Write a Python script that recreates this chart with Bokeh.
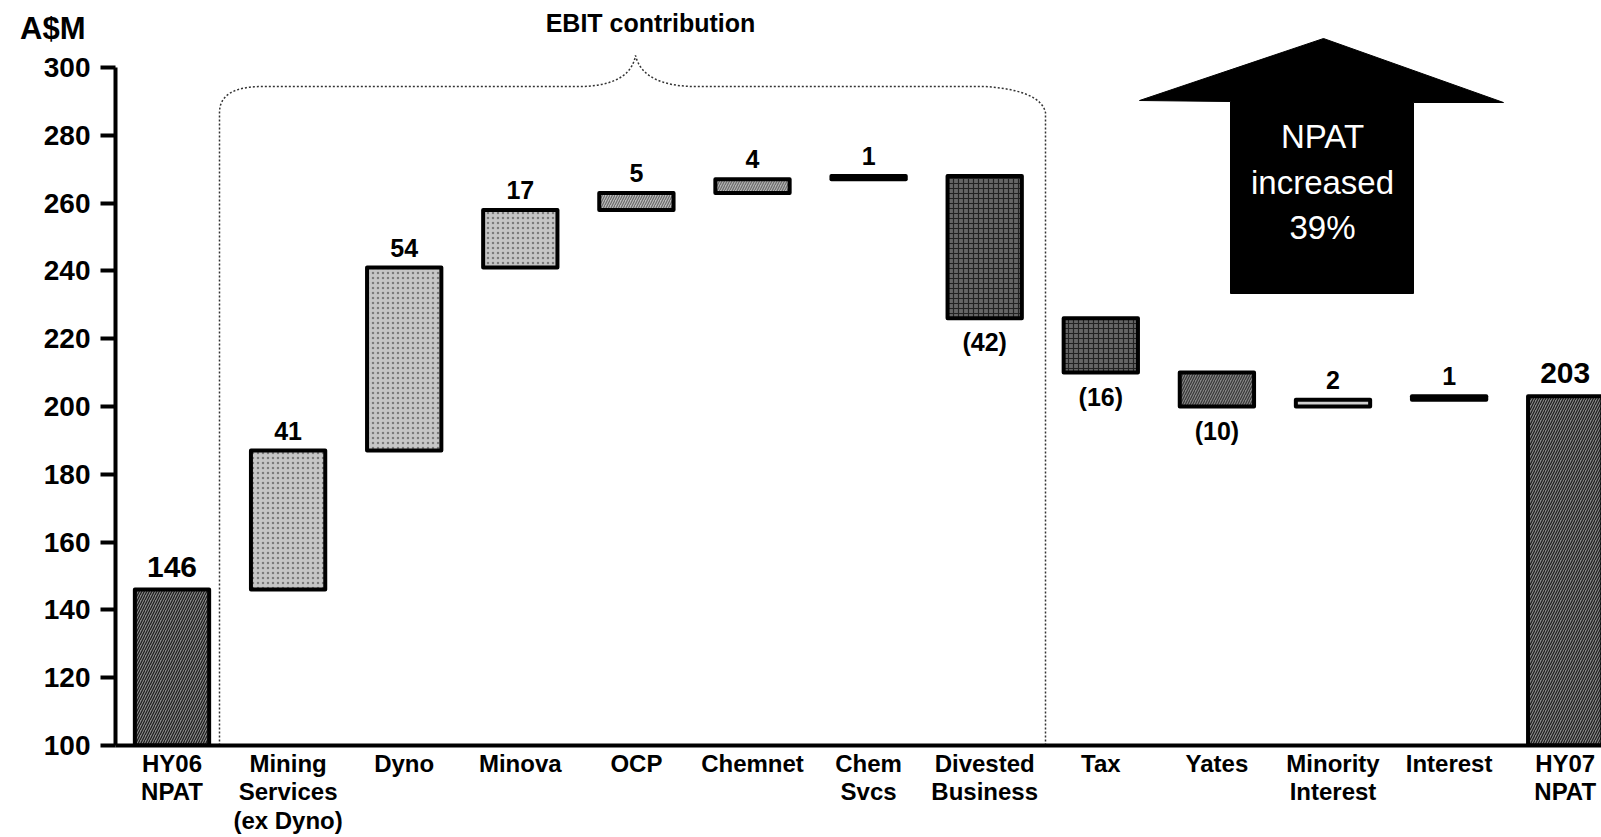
from bokeh.plotting import figure
from bokeh.models import Range1d, FixedTicker, LinearAxis, ColumnDataSource
from bokeh.embed import file_html
from bokeh.resources import INLINE
from bokeh.core.properties import value
import numpy as np

# ---- data -------------------------------------------------------------
categories = [
    "HY06\nNPAT", "Mining\nServices\n(ex Dyno)", "Dyno", "Minova", "OCP",
    "Chemnet", "Chem\nSvcs", "Divested\nBusiness", "Tax", "Yates",
    "Minority\nInterest", "Interest", "HY07\nNPAT",
]
opening_npat = 146
closing_npat = 203
movements = [41, 54, 17, 5, 4, 1, -42, -16, -10, 2, 1]
y_ticks = [100, 120, 140, 160, 180, 200, 220, 240, 260, 280, 300]
unit_label = "A$M"
arrow_lines = ["NPAT", "increased", "39%"]

# ---- styling per bar --------------------------------------------------
fill_colors = ["#888888", "#c6c6c6", "#c6c6c6", "#c6c6c6", "#bdbdbd", "#b5b5b5",
               "#000000", "#666666", "#666666", "#868686", "#d0d0d0", "#000000",
               "#888888"]
hatch_patterns = ["right_diagonal_line", "dot", "dot", "dot", "right_diagonal_line",
                  "right_diagonal_line", " ", "cross", "cross", "right_diagonal_line",
                  " ", " ", "right_diagonal_line"]
hatch_colors = ["#1a1a1a", "#7a7a7a", "#7a7a7a", "#7a7a7a", "#6a6a6a", "#6a6a6a",
                "#000000", "#222222", "#222222", "#363636", "#666666", "#000000",
                "#1a1a1a"]

# ---- waterfall geometry -------------------------------------------------
base = y_ticks[0]
bottoms, tops, labels = [base], [opening_npat], [str(opening_npat)]
level = opening_npat
for m in movements:
    new = level + m
    bottoms.append(min(level, new))
    tops.append(max(level, new))
    labels.append(str(m) if m >= 0 else "(%d)" % (-m))
    level = new
bottoms.append(base)
tops.append(closing_npat)
labels.append(str(closing_npat))

xs = np.arange(len(categories))
half_w = 0.32

# pixel <-> data helpers (frame: x 115..1601, y 0..745)
CX0, DX = 171.5, 116.1
PY100, DY = 745.0, 3.39


def xd(px):
    return (px - CX0) / DX


def yd(py):
    return 100 + (PY100 - py) / DY


FONT = "Liberation Sans"

p = figure(width=1601, height=837, output_backend="svg", toolbar_location=None,
           x_range=Range1d(xd(115), xd(1601)), y_range=Range1d(100, yd(0)),
           min_border_left=115, min_border_right=0, min_border_top=0,
           min_border_bottom=92)
p.outline_line_color = None
p.xgrid.visible = False
p.ygrid.visible = False
p.background_fill_color = "white"
p.border_fill_color = "white"

# bars
bars = ColumnDataSource(dict(
    left=xs - half_w, right=xs + half_w, bottom=bottoms, top=tops,
    fill=fill_colors, hatch=hatch_patterns, hcol=hatch_colors,
))
p.quad(left="left", right="right", bottom="bottom", top="top", source=bars,
       fill_color="fill", hatch_pattern="hatch", hatch_color="hcol",
       hatch_scale=5, hatch_weight=1.2, line_color="black", line_width=4,
       line_join="round")

# value labels (vertically centred on the digits)
is_total = [True] + [False] * len(movements) + [True]
vals = [opening_npat] + movements + [closing_npat]
lab_y, lab_size = [], []
for i, v in enumerate(vals):
    if is_total[i]:
        lab_y.append(tops[i] + 23 / DY)
        lab_size.append("30px")
    elif v >= 0:
        lab_y.append(tops[i] + 20 / DY)
        lab_size.append("25px")
    else:
        lab_y.append(bottoms[i] - 24 / DY)
        lab_size.append("25px")
lsrc = ColumnDataSource(dict(x=xs, y=lab_y, text=labels, size=lab_size))
p.text(x="x", y="y", text="text", source=lsrc, text_align="center",
       text_baseline="middle", text_font=value(FONT), text_font_style="bold",
       text_font_size="size", text_color="black")

# EBIT contribution brace (dotted)
def quad_curve(p0, c, p1, n=20):
    t = np.linspace(0, 1, n)
    x = (1 - t) ** 2 * p0[0] + 2 * (1 - t) * t * c[0] + t ** 2 * p1[0]
    y = (1 - t) ** 2 * p0[1] + 2 * (1 - t) * t * c[1] + t ** 2 * p1[1]
    return list(x), list(y)


bx, by = [219, 219], [745, 112]
cx, cy = quad_curve((219, 112), (219, 86), (262, 86))
bx += cx; by += cy
bx += [583]; by += [86]
cx, cy = quad_curve((583, 86), (630, 84), (635, 55))
bx += cx; by += cy
cx, cy = quad_curve((635, 55), (642, 84), (690, 86))
bx += cx; by += cy
bx += [985]; by += [86]
cx, cy = quad_curve((985, 86), (1040, 90), (1045, 112))
bx += cx; by += cy
bx += [1045]; by += [745]
p.line([xd(v) for v in bx], [yd(v) for v in by], line_color="#333333",
       line_width=1.5, line_dash="2 2")

p.text(x=[xd(650)], y=[yd(22.5)], text=["EBIT contribution"], text_align="center",
       text_baseline="middle", text_font=value(FONT), text_font_style="bold",
       text_font_size="25px", text_color="black")

# NPAT arrow
ax = [1323, 1503, 1413, 1413, 1230, 1230, 1139]
ay = [38, 102, 102, 293, 293, 101, 100]
p.patch([xd(v) for v in ax], [yd(v) for v in ay], fill_color="black",
        line_color="black", line_width=1)
p.text(x=[xd(1322)] * 3, y=[yd(v) for v in (136, 182, 227)], text=arrow_lines,
       text_align="center", text_baseline="middle", text_font=value(FONT),
       text_font_size="33px", text_color="white")

# value axis
ya = p.yaxis[0]
ya.ticker = FixedTicker(ticks=y_ticks)
ya.bounds = (100, 300)
ya.axis_line_width = 4
ya.axis_line_color = "black"
ya.major_tick_line_width = 4
ya.major_tick_out = 15
ya.major_tick_in = 0
ya.minor_tick_line_color = None
ya.major_label_standoff = 10
ya.major_label_text_font = FONT
ya.major_label_text_font_style = "bold"
ya.major_label_text_font_size = "28px"
ya.major_label_text_color = "black"

# unit caption: a bare outer axis carrying a single label above the 300 tick
unit_y = 311.5
ua = LinearAxis(ticker=FixedTicker(ticks=[unit_y]),
                major_label_overrides={unit_y: unit_label},
                axis_line_color=None, major_tick_line_color=None,
                minor_tick_line_color=None, major_tick_out=0, major_tick_in=0,
                major_label_standoff=-45, major_label_text_font=FONT,
                major_label_text_font_style="bold",
                major_label_text_font_size="31px",
                major_label_text_color="black")
p.add_layout(ua, "left")

# category axis
xa = p.xaxis[0]
xa.ticker = FixedTicker(ticks=list(xs))
xa.major_label_overrides = {int(i): c for i, c in zip(xs, categories)}
xa.axis_line_width = 4
xa.axis_line_color = "black"
xa.major_tick_out = 0
xa.major_tick_in = 0
xa.major_tick_line_color = None
xa.minor_tick_line_color = None
xa.major_label_standoff = 4
xa.major_label_text_font = FONT
xa.major_label_text_font_style = "bold"
xa.major_label_text_font_size = "24px"
xa.major_label_text_line_height = 1.06
xa.major_label_text_color = "black"

open("out.html", "w").write(file_html(p, INLINE))
